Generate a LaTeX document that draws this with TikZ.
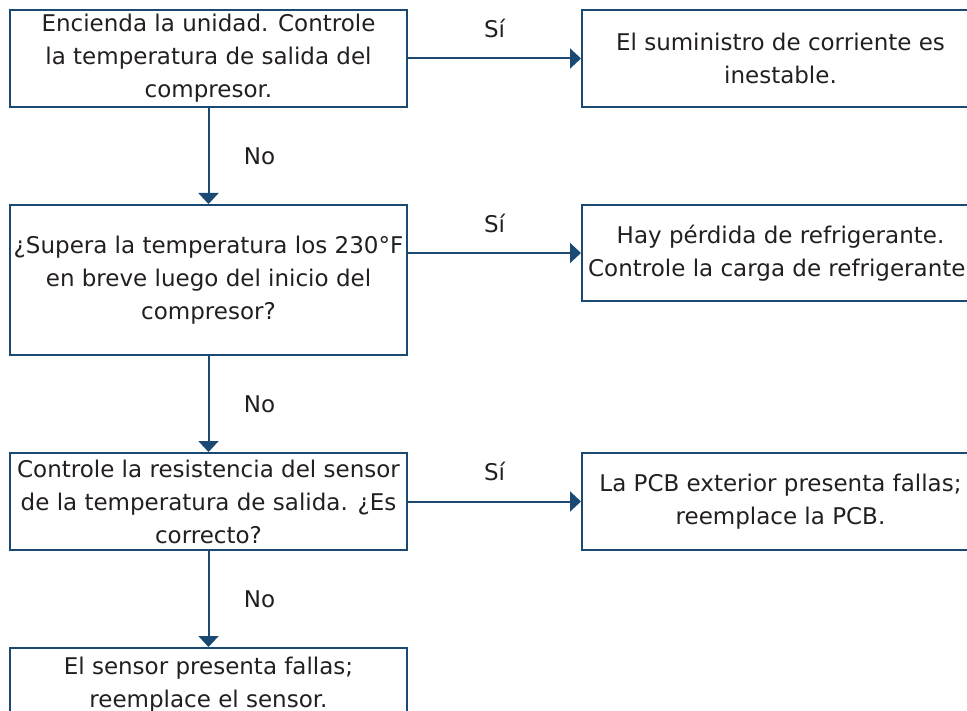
\documentclass[tikz,border=0pt]{standalone}
\usepackage{fontspec}
\setmainfont{DejaVu Sans}
\usetikzlibrary{arrows.meta,positioning}
\definecolor{navy}{HTML}{1A4A73}
\definecolor{inkgray}{HTML}{231F20}

\begin{document}
\begin{tikzpicture}[
    node distance=96pt and 173pt,
    box/.style={draw=navy, line width=2pt, minimum width=397pt, minimum height=97pt, inner sep=1pt, align=center, text=inkgray, font=\fontsize{23}{33}\selectfont},
    answer/.style={text=inkgray, font=\fontsize{23}{26}\selectfont},
    arrow/.style={-{Triangle[width=20pt,length=11pt]}, line width=2pt, draw=navy}
]
\useasboundingbox (0,0) rectangle (967pt,-711pt);
\clip (0,0) rectangle (967pt,-711pt);
\node[box] (start) at (208.5pt,-58.5pt) {Encienda la unidad. Controle\\la temperatura de salida del\\compresor.};
\node[box, below=of start, minimum height=150pt] (hightemp) {¿Supera la temperatura los 230°F\\en breve luego del inicio del\\compresor?};
\node[box, below=of hightemp] (sensorres) {Controle la resistencia del sensor\\de la temperatura de salida. ¿Es\\correcto?};
\node[box, below=of sensorres, minimum height=74pt] (badsensor) {El sensor presenta fallas;\\reemplace el sensor.};
\node[box, right=of start.north east, anchor=north west] (power) {El suministro de corriente es\\inestable.};
\node[box, right=of hightemp.north east, anchor=north west, minimum height=96pt] (leak) {Hay pérdida de refrigerante.\\Controle la carga de refrigerante.};
\node[box, right=of sensorres.north east, anchor=north west] (badpcb) {La PCB exterior presenta fallas;\\reemplace la PCB.};
\draw[arrow] (start.east |- power.west) -- node[answer, above=16pt] (si1) {Sí} (power.west);
\draw[arrow] (hightemp.east |- leak.west) -- node[answer, above=16pt] (si2) {Sí} (leak.west);
\draw[arrow] (sensorres.east |- badpcb.west) -- node[answer, above=16pt] (si3) {Sí} (badpcb.west);
\draw[arrow] (start) -- node[answer, right=31pt] (no1) {No} (hightemp);
\draw[arrow] (hightemp) -- node[answer, right=31pt] (no2) {No} (sensorres);
\draw[arrow] (sensorres) -- node[answer, right=31pt] (no3) {No} (badsensor);
\end{tikzpicture}
\end{document}
